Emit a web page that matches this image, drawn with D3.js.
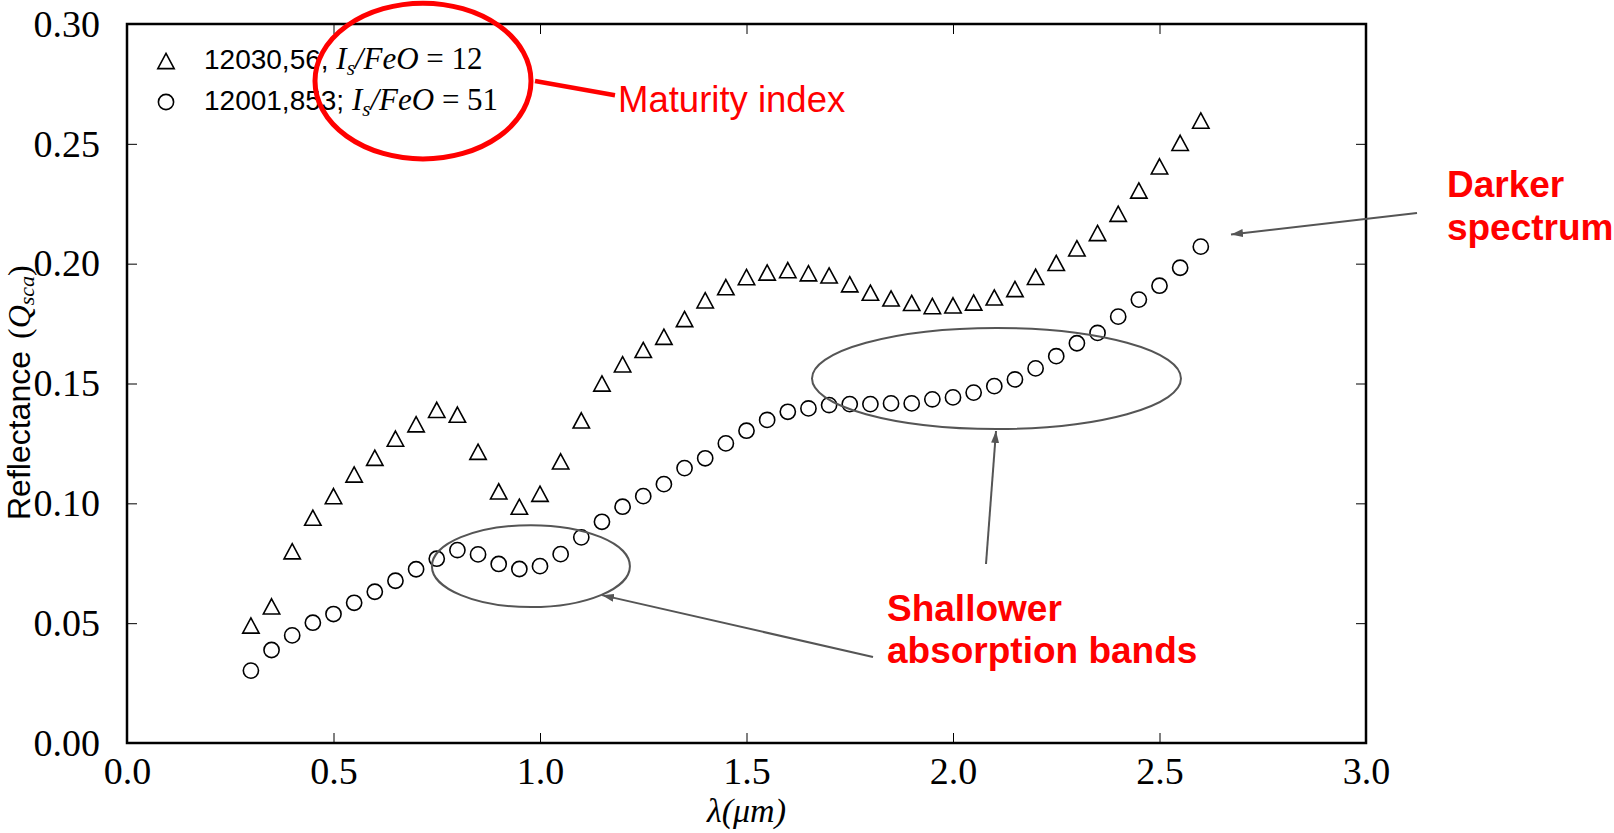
<!DOCTYPE html>
<html>
<head>
<meta charset="utf-8">
<script src="https://cdn.jsdelivr.net/npm/d3@7"></script>
<style>
  html, body { margin: 0; padding: 0; background: #fff; }
  svg { display: block; }
</style>
</head>
<body>
<svg id="chart" width="1614" height="833"></svg>
<script>
// Wavelength grid (micrometres) shared by both samples
const wavelength = [
  0.30, 0.35, 0.40, 0.45, 0.50, 0.55, 0.60, 0.65, 0.70, 0.75,
  0.80, 0.85, 0.90, 0.95, 1.00, 1.05, 1.10, 1.15, 1.20, 1.25,
  1.30, 1.35, 1.40, 1.45, 1.50, 1.55, 1.60, 1.65, 1.70, 1.75,
  1.80, 1.85, 1.90, 1.95, 2.00, 2.05, 2.10, 2.15, 2.20, 2.25,
  2.30, 2.35, 2.40, 2.45, 2.50, 2.55, 2.60
];

// Sample 12030,56 (Is/FeO = 12)
const reflectanceImmature = [
  0.049, 0.057, 0.080, 0.094, 0.103, 0.112, 0.119, 0.127, 0.133, 0.139,
  0.137, 0.1215, 0.105, 0.0986, 0.104, 0.1175, 0.1346, 0.150, 0.158, 0.164,
  0.1695, 0.1769, 0.1847, 0.1902, 0.1944, 0.1963, 0.1973, 0.196, 0.1951, 0.1914,
  0.1879, 0.1855, 0.1836, 0.1823, 0.1826, 0.1838, 0.1859, 0.1894, 0.1945, 0.2003,
  0.2064, 0.2128, 0.2208, 0.2305, 0.2406, 0.2504, 0.2597
];

// Sample 12001,853 (Is/FeO = 51)
const reflectanceMature = [
  0.0302, 0.0388, 0.0449, 0.0502, 0.0538, 0.0585, 0.0631, 0.0677, 0.0725, 0.0769,
  0.0805, 0.0787, 0.0747, 0.0726, 0.0738, 0.0788, 0.0858, 0.0923, 0.0986, 0.103,
  0.108, 0.1147, 0.1188, 0.125, 0.1303, 0.1348, 0.1382, 0.1396, 0.141, 0.1414,
  0.1414, 0.1417, 0.1417, 0.1434, 0.1442, 0.1462, 0.1489, 0.1517, 0.1563, 0.1614,
  0.1668, 0.1711, 0.1779, 0.1850, 0.1908, 0.1983, 0.2071
];

const xTicks = [0.0, 0.5, 1.0, 1.5, 2.0, 2.5, 3.0];
const yTicks = [0.00, 0.05, 0.10, 0.15, 0.20, 0.25, 0.30];

const svg = d3.select("#chart");
const plot = { left: 127, right: 1366, top: 24, bottom: 743 };

const x = d3.scaleLinear().domain([0, 3]).range([plot.left, plot.right]);
const y = d3.scaleLinear().domain([0, 0.30]).range([plot.bottom, plot.top]);

const serif = "'Liberation Serif', 'Times New Roman', serif";
const sans = "'Liberation Sans', Arial, sans-serif";
const grey = "#555555";

// Arrow head for the grey callouts
svg.append("defs").append("marker")
  .attr("id", "head")
  .attr("viewBox", "0 0 12 8")
  .attr("refX", 12).attr("refY", 4)
  .attr("markerWidth", 12).attr("markerHeight", 8)
  .attr("markerUnits", "userSpaceOnUse")
  .attr("orient", "auto")
  .append("path")
  .attr("d", "M0,0 L12,4 L0,8 Z")
  .attr("fill", grey);

// Axes with inward ticks on all four sides
const tickLen = 10;
const axisBottom = d3.axisBottom(x).tickValues(xTicks).tickSizeInner(-tickLen).tickSizeOuter(0)
  .tickPadding(14).tickFormat(d3.format(".1f"));
const axisTop = d3.axisTop(x).tickValues(xTicks).tickSizeInner(-tickLen).tickSizeOuter(0).tickFormat("");
const axisLeft = d3.axisLeft(y).tickValues(yTicks).tickSizeInner(-tickLen).tickSizeOuter(0)
  .tickPadding(27).tickFormat(d3.format(".2f"));
const axisRight = d3.axisRight(y).tickValues(yTicks).tickSizeInner(-tickLen).tickSizeOuter(0).tickFormat("");

function styleAxis(g) {
  g.select(".domain").remove();
  g.selectAll(".tick line").attr("stroke", "#000").attr("stroke-width", 1);
  g.selectAll(".tick text").attr("fill", "#000").style("font-family", serif).style("font-size", "38px");
}

svg.append("g").attr("transform", `translate(0,${plot.bottom})`).call(axisBottom).call(styleAxis)
  .selectAll(".tick text").attr("dy", "0.72em");
svg.append("g").attr("transform", `translate(0,${plot.top})`).call(axisTop).call(styleAxis);
svg.append("g").attr("transform", `translate(${plot.left},0)`).call(axisLeft).call(styleAxis)
  .selectAll(".tick text").attr("dy", "0.32em");
svg.append("g").attr("transform", `translate(${plot.right},0)`).call(axisRight).call(styleAxis);

// Frame
svg.append("rect")
  .attr("x", plot.left).attr("y", plot.top)
  .attr("width", plot.right - plot.left).attr("height", plot.bottom - plot.top)
  .attr("fill", "none").attr("stroke", "#000").attr("stroke-width", 2.5);

// Axis titles
svg.append("text")
  .attr("x", x(1.5)).attr("y", 822)
  .attr("text-anchor", "middle")
  .style("font-family", serif).style("font-style", "italic").style("font-size", "34px")
  .text("λ(μm)");

const yTitle = svg.append("text")
  .attr("transform", "translate(30,520) rotate(-90)")
  .attr("text-anchor", "start")
  .style("font-size", "32px").attr("fill", "#000");
yTitle.append("tspan").style("font-family", sans).text("Reflectance");
yTitle.append("tspan").style("font-family", serif).attr("dx", 12).text("(");
yTitle.append("tspan").style("font-family", serif).style("font-style", "italic").text("Q");
yTitle.append("tspan").style("font-family", serif).style("font-style", "italic")
  .style("font-size", "22px").attr("dy", 4).text("sca");
yTitle.append("tspan").style("font-family", serif).attr("dy", -4).text(")");

// Marker shapes
const triPath = "M0,-7.6 L8.2,7.6 L-8.2,7.6 Z";
const markerR = 7.6;

const immature = wavelength.map((w, i) => ({ w, r: reflectanceImmature[i] }));
const mature = wavelength.map((w, i) => ({ w, r: reflectanceMature[i] }));

svg.append("g").selectAll("path").data(immature).join("path")
  .attr("d", triPath)
  .attr("transform", d => `translate(${x(d.w)},${y(d.r)})`)
  .attr("fill", "none").attr("stroke", "#000").attr("stroke-width", 1.6);

svg.append("g").selectAll("circle").data(mature).join("circle")
  .attr("cx", d => x(d.w)).attr("cy", d => y(d.r)).attr("r", markerR)
  .attr("fill", "none").attr("stroke", "#000").attr("stroke-width", 1.6);

// Legend
const legend = [
  { id: "12030,56, ", value: "12", shape: "tri", yPix: 61, base: 69 },
  { id: "12001,853; ", value: "51", shape: "circ", yPix: 102, base: 110 }
];
legend.forEach(item => {
  if (item.shape === "tri") {
    svg.append("path").attr("d", triPath)
      .attr("transform", `translate(166,${item.yPix})`)
      .attr("fill", "none").attr("stroke", "#000").attr("stroke-width", 1.6);
  } else {
    svg.append("circle").attr("cx", 166).attr("cy", item.yPix).attr("r", markerR)
      .attr("fill", "none").attr("stroke", "#000").attr("stroke-width", 1.6);
  }
  const t = svg.append("text").attr("x", 204).attr("y", item.base).attr("fill", "#000");
  t.append("tspan").style("font-family", sans).style("font-size", "28px").text(item.id);
  t.append("tspan").style("font-family", serif).style("font-style", "italic").style("font-size", "31px").text("I");
  t.append("tspan").style("font-family", serif).style("font-style", "italic").style("font-size", "21px")
    .attr("dy", 6).text("s");
  t.append("tspan").style("font-family", serif).style("font-style", "italic").style("font-size", "31px")
    .attr("dy", -6).text("/FeO");
  t.append("tspan").style("font-family", serif).style("font-size", "31px").text(" = " + item.value);
});

// Callout: maturity index (red)
const red = "#ff0000";
svg.append("ellipse")
  .attr("cx", x(0.7167)).attr("cy", y(0.2762))
  .attr("rx", x(0.2615) - x(0)).attr("ry", y(0) - y(0.0325))
  .attr("fill", "none").attr("stroke", red).attr("stroke-width", 5);
svg.append("line")
  .attr("x1", x(0.9879)).attr("y1", y(0.2762))
  .attr("x2", x(1.1816)).attr("y2", y(0.2703))
  .attr("stroke", red).attr("stroke-width", 4.5);
svg.append("text")
  .attr("x", x(1.1889)).attr("y", y(0.2633))
  .style("font-family", sans).style("font-size", "36.5px").attr("fill", red)
  .text("Maturity index");

// Callouts: grey ellipses and arrows
const ellipses = [
  { cx: 0.978, cy: 0.0738, rx: 0.2397, ry: 0.0171 },
  { cx: 2.1053, cy: 0.1521, rx: 0.4467, ry: 0.02107 }
];
svg.append("g").selectAll("ellipse").data(ellipses).join("ellipse")
  .attr("cx", d => x(d.cx)).attr("cy", d => y(d.cy))
  .attr("rx", d => x(d.rx) - x(0)).attr("ry", d => y(0) - y(d.ry))
  .attr("fill", "none").attr("stroke", grey).attr("stroke-width", 2);

const arrows = [
  { x1: 3.1235, y1: 0.2211, x2: 2.6731, y2: 0.2122 },
  { x1: 2.0799, y1: 0.0747, x2: 2.1041, y2: 0.1302 },
  { x1: 1.8063, y1: 0.0359, x2: 1.1501, y2: 0.0617 }
];
svg.append("g").selectAll("line").data(arrows).join("line")
  .attr("x1", d => x(d.x1)).attr("y1", d => y(d.y1))
  .attr("x2", d => x(d.x2)).attr("y2", d => y(d.y2))
  .attr("stroke", grey).attr("stroke-width", 2)
  .attr("marker-end", "url(#head)");

// Red bold notes
const notes = [
  { lines: ["Darker", "spectrum"], x: 3.196, y: [0.2279, 0.2097] },
  { lines: ["Shallower", "absorption bands"], x: 1.8402, y: [0.0511, 0.0333] }
];
notes.forEach(n => {
  n.lines.forEach((line, i) => {
    svg.append("text")
      .attr("x", x(n.x)).attr("y", y(n.y[i]))
      .style("font-family", sans).style("font-weight", "bold").style("font-size", "37px")
      .attr("fill", red)
      .text(line);
  });
});
</script>
</body>
</html>
